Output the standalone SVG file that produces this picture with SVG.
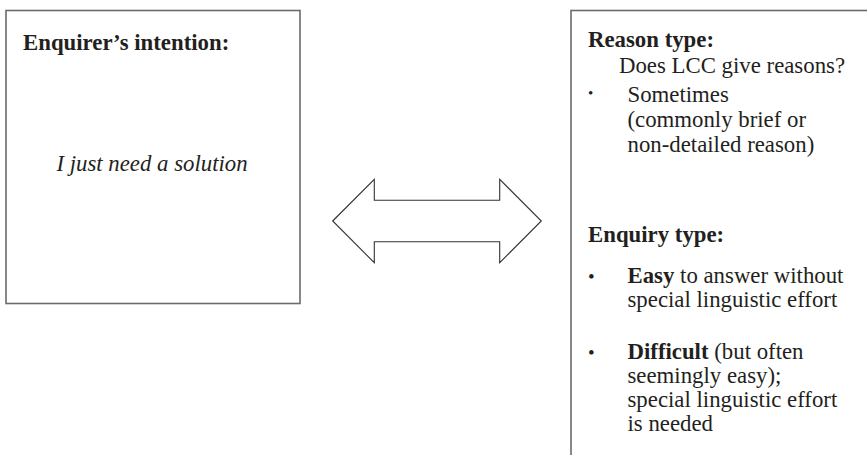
<svg xmlns="http://www.w3.org/2000/svg" width="867" height="455" viewBox="0 0 867 455">
<style>
.box{fill:#fff;stroke:#6b6b6b;stroke-width:1.6}
.arrow{fill:#fff;stroke:#333;stroke-width:1.1;stroke-linejoin:miter}
text{font-family:"Liberation Serif","Times New Roman",serif;font-size:22.8px;fill:#231f20}
.b{font-weight:bold}
.i{font-style:italic}
.bul{font-size:15px}
.bul2{font-size:19px}
</style>
<rect width="867" height="455" fill="#fff"/>
<g id="intention">
<rect class="box" x="6" y="10.5" width="294" height="293"/>
<text class="b" x="23" y="50">Enquirer’s intention:</text>
<text class="i" x="152" y="171" text-anchor="middle">I just need a solution</text>
</g>
<g id="connectors">
<path class="arrow" d="M332.7,221 L374.3,179.3 L374.3,200.3 L499.7,200.3 L499.7,179.3 L541.3,221 L499.7,262.7 L499.7,241.7 L374.3,241.7 L374.3,262.7 Z"/>
</g>
<g id="types">
<rect class="box" x="571" y="10.5" width="400" height="500"/>
<text class="b" x="588" y="47">Reason type:</text>
<text x="619" y="73">Does LCC give reasons?</text>
<text class="bul" x="588" y="98">•</text>
<text x="627.5" y="102">Sometimes</text>
<text x="627.5" y="127">(commonly brief or</text>
<text x="627.5" y="152">non-detailed reason)</text>
<text class="b" x="588" y="242">Enquiry type:</text>
<text class="bul2" x="588" y="283">•</text>
<text x="627.5" y="283"><tspan class="b">Easy</tspan> to answer without</text>
<text x="627.5" y="307">special linguistic effort</text>
<text class="bul2" x="588" y="359">•</text>
<text x="627.5" y="359"><tspan class="b">Difficult</tspan> (but often</text>
<text x="627.5" y="383">seemingly easy);</text>
<text x="627.5" y="407">special linguistic effort</text>
<text x="627.5" y="431">is needed</text>
</g>
</svg>
